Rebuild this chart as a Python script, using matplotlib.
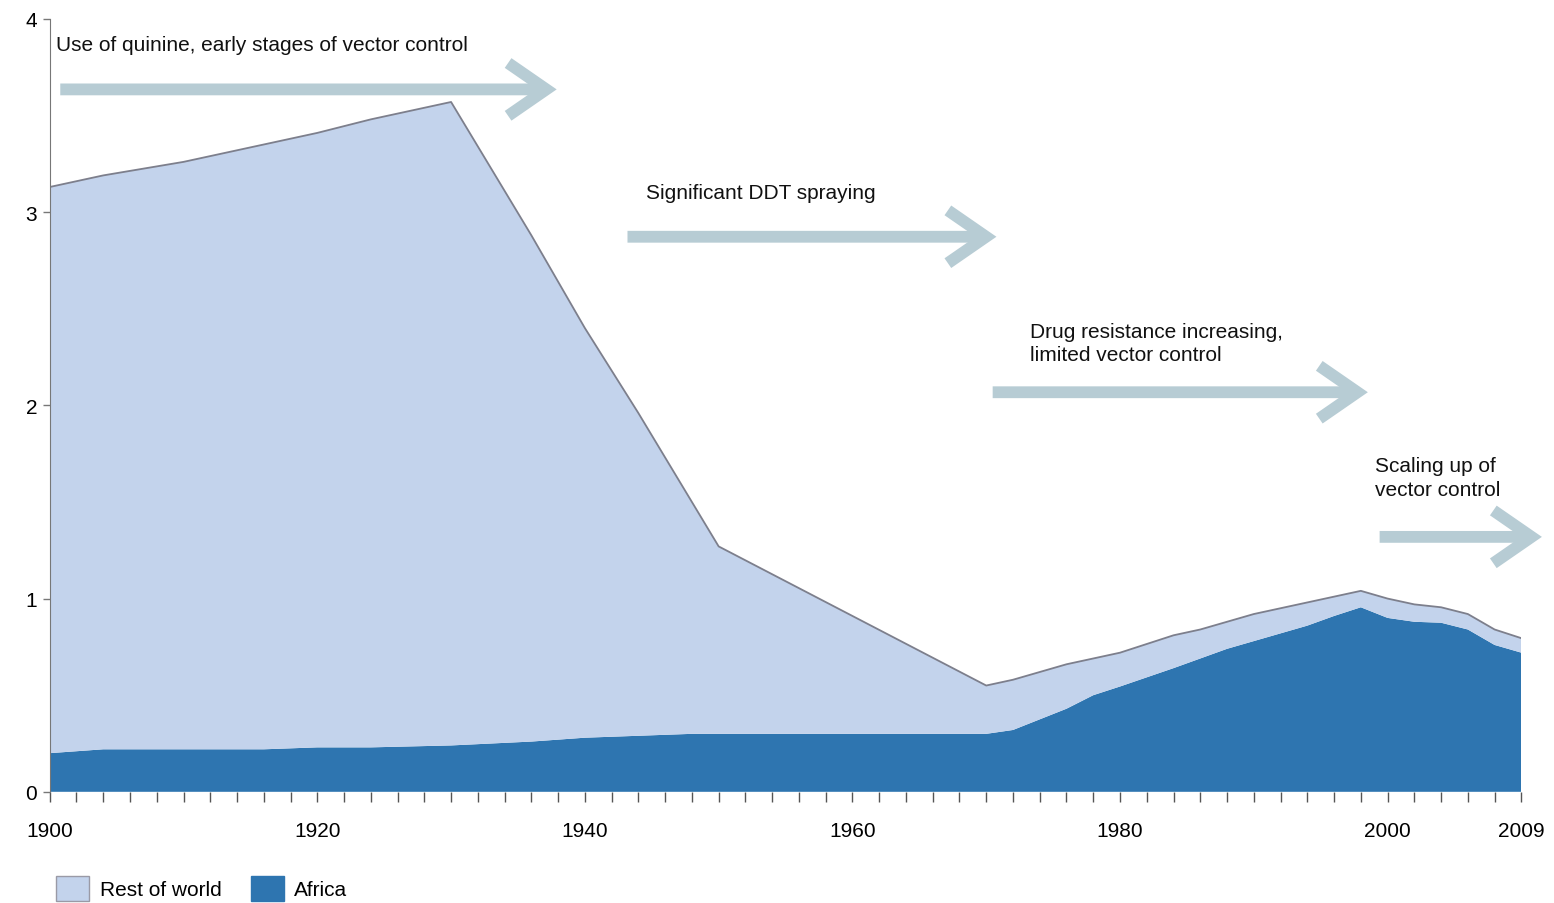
import numpy as np
import matplotlib
matplotlib.use('agg')
import matplotlib.pyplot as plt
from matplotlib.patches import FancyArrowPatch, Patch

plt.rcParams['font.family'] = ['Liberation Sans', 'DejaVu Sans']

# values (deaths, millions)
years = [1900, 1904, 1910, 1916, 1920, 1924, 1930, 1936, 1940, 1944, 1948, 1950,
         1960, 1970, 1972, 1976, 1978, 1980, 1984, 1986, 1988, 1990, 1994, 1996,
         1998, 2000, 2002, 2004, 2006, 2008, 2009]
africa = [0.20, 0.22, 0.22, 0.22, 0.23, 0.23, 0.24, 0.26, 0.28, 0.29, 0.30, 0.30,
          0.30, 0.30, 0.32, 0.43, 0.50, 0.545, 0.64, 0.69, 0.74, 0.78, 0.86, 0.91,
          0.955, 0.90, 0.88, 0.875, 0.84, 0.76, 0.72]
rest_of_world = [2.93, 2.97, 3.04, 3.13, 3.18, 3.25, 3.33, 2.62, 2.12, 1.67, 1.20, 0.97,
                 0.61, 0.25, 0.26, 0.23, 0.19, 0.175, 0.17, 0.15, 0.14, 0.14, 0.12, 0.10,
                 0.085, 0.10, 0.09, 0.08, 0.08, 0.08, 0.075]

major_years = [1900, 1920, 1940, 1960, 1980, 2000, 2009]
minor_years = list(range(1900, 2009, 2)) + [2009]
y_ticks = [0, 1, 2, 3, 4]

# label, text x, text top, arrow start, arrow end, arrow y (figure fraction)
phases = [
    ("Use of quinine, early stages of vector control", 0.036, 0.960, 0.037, 0.360, 0.900),
    ("Significant DDT spraying", 0.416, 0.796, 0.402, 0.643, 0.737),
    ("Drug resistance increasing,\nlimited vector control", 0.663, 0.643, 0.637, 0.882, 0.565),
    ("Scaling up of\nvector control", 0.885, 0.494, 0.886, 0.994, 0.405),
]

c_rest = '#c3d3ec'
c_africa = '#2e75b0'
c_arrow = '#b7ccd4'


# axis is categorical in the source: one slot per 2 years, last slot 2008->2009
def fwd(x):
    x = np.asarray(x, dtype=float)
    return np.where(x <= 2008, (x - 1900) / 2.0, 54 + (x - 2008))


def inv(p):
    p = np.asarray(p, dtype=float)
    return np.where(p <= 54, 1900 + 2.0 * p, 2008 + (p - 54))


fig = plt.figure(figsize=(15.54, 9.04), dpi=100)
ax = fig.add_axes([0.032, 0.123, 0.947, 0.855])
ax.set_xscale('function', functions=(fwd, inv))

total = np.array(africa) + np.array(rest_of_world)
ax.stackplot(years, africa, rest_of_world, colors=[c_africa, c_rest], linewidth=0)
ax.plot(years, total, color='#7d7f8c', lw=1.3)

ax.set_xlim(1900, 2009)
ax.set_ylim(0, 4)
ax.set_xticks(major_years)
ax.set_xticklabels([str(y) for y in major_years])
ax.set_xticks(minor_years, minor=True)
ax.set_yticks(y_ticks)
ax.tick_params(axis='x', which='both', length=7, width=1, color='#555555',
               labelsize=15, pad=14)
ax.tick_params(axis='y', length=5, width=1, color='#777777', labelsize=15, pad=4)
for s in ['top', 'right', 'bottom']:
    ax.spines[s].set_visible(False)
ax.spines['left'].set_color('#777777')

for text, tx, ty, x0, x1, ya in phases:
    fig.text(tx, ty, text, fontsize=15, color='#111111', va='top', ha='left',
             linespacing=1.3)
    arr = FancyArrowPatch((x0, ya), (x1, ya), transform=fig.transFigure,
                          arrowstyle='->,head_length=0.55,head_width=0.38',
                          mutation_scale=50, lw=8.5, color=c_arrow,
                          joinstyle='miter', capstyle='butt')
    fig.patches.append(arr)

handles = [Patch(facecolor=c_rest, edgecolor='#9a9aa6', label='Rest of world'),
           Patch(facecolor=c_africa, edgecolor=c_africa, label='Africa')]
fig.legend(handles=handles, loc='lower left', bbox_to_anchor=(0.036, 0.002), ncol=2,
           frameon=False, fontsize=15, handlelength=1.6, handleheight=1.5,
           columnspacing=1.4, handletextpad=0.5, borderaxespad=0, borderpad=0)

fig.savefig('out.png', dpi=100)
